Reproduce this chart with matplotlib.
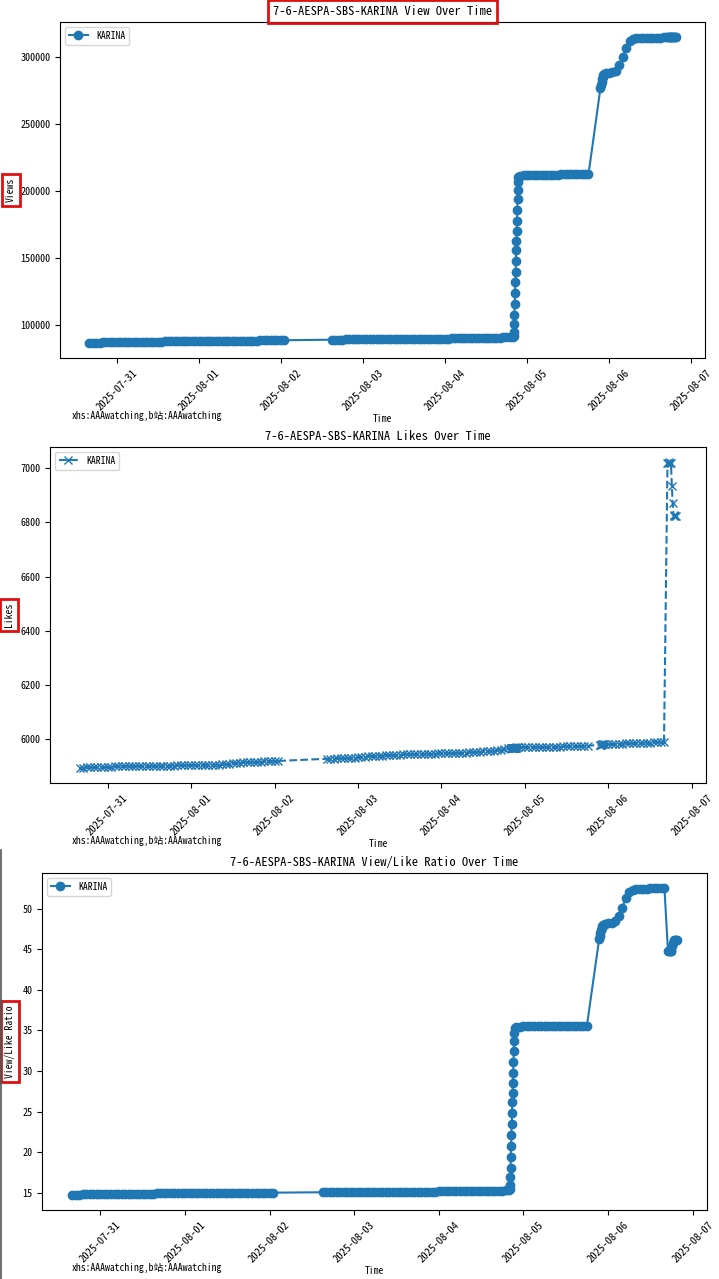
import matplotlib
matplotlib.use("Agg")
import matplotlib.pyplot as plt
import matplotlib.dates as mdates
from matplotlib.lines import Line2D
import numpy as np
import pandas as pd

plt.rcParams['font.family'] = ['Noto Sans Mono CJK SC', 'Noto Sans CJK SC', 'DejaVu Sans']
plt.rcParams['axes.unicode_minus'] = False

title_prefix = "7-6-AESPA-SBS-KARINA"
member = "KARINA"
footer = "xhs:AAAwatching,b站:AAAwatching"

# scrape times, one block per run of the scraper
times = pd.DatetimeIndex(np.concatenate([
    pd.date_range('2025-07-30 16:00', '2025-08-02 01:00', freq='h'),
    pd.date_range('2025-08-02 15:00', '2025-08-04 20:00', freq='h'),
    pd.date_range('2025-08-04 20:05', '2025-08-04 21:30', freq='5min'),
    pd.date_range('2025-08-04 22:00', '2025-08-05 18:00', freq='h'),
    pd.date_range('2025-08-05 21:30', '2025-08-05 22:30', freq='10min'),
    pd.date_range('2025-08-05 23:00', '2025-08-06 16:00', freq='h'),
    pd.date_range('2025-08-06 17:00', '2025-08-06 19:30', freq='15min'),
]))

views = [
    # 07-30 16h .. 08-02 01h
    87000, 87050, 87100, 87150, 87200, 87230, 87260, 87280,
    87300, 87320, 87600, 87650, 87680, 87700, 87720, 87740, 87760, 87780, 87800, 87830,
    87860, 87890, 87920, 87950, 87980, 88000, 88020, 88040, 88060, 88080, 88100, 88120,
    88140, 88300, 88350, 88380, 88400, 88420, 88440, 88460, 88480, 88500, 88520, 88540,
    88560, 88580, 88600, 88620, 88640, 88660, 88680, 88700, 88720, 88740, 88760, 88780,
    88800, 88850,
    # 08-02 15h .. 08-04 20h
    89300, 89330, 89360, 89390, 89420, 89450, 89480, 89500, 89520,
    89540, 89560, 89580, 89600, 89620, 89640, 89660, 89680, 89700, 89720, 89750, 89850,
    89880, 89900, 89920, 89940, 89960, 89980, 90000, 90020, 90040, 90060, 90080, 90100,
    90120, 90140, 90160, 90180, 90200, 90220, 90240, 90260, 90280, 90300, 90500, 90550,
    90600, 90650, 90700, 90750, 90800, 90900, 91000, 91150, 91300,
    # 08-04 20:05 .. 21:30
    92000, 95000, 101000, 108000, 116000, 124000, 132000, 140000, 148000,
    156000, 163000, 170000, 178000, 186000, 194000, 201000, 207000, 210500,
    # 08-04 22h .. 08-05 18h
    211500, 211800, 212000, 212100, 212150, 212200, 212250, 212300, 212350, 212400, 212420,
    212440, 212460, 212480, 212500, 212520, 212540, 212560, 212580, 212600, 212620,
    # 08-05 21:30 .. 22:30
    277000, 279000, 281500, 283500, 285000, 286500, 287200,
    # 08-05 23h .. 08-06 16h
    287800, 288300, 288900, 290000, 294000, 300000, 307000, 312000, 313500,
    314000, 314200, 314300, 314400, 314450, 314500, 314550, 314600, 314650,
    # 08-06 17:00 .. 19:30
    314700, 314700, 314720, 314730, 314740, 314750, 314760, 314770, 314780, 314790, 314800,
]

likes = [
    5895, 5895, 5896, 5896, 5896, 5897, 5897, 5897,
    5898, 5899, 5900, 5900, 5900, 5901, 5901, 5901, 5901, 5902, 5902, 5902,
    5902, 5902, 5903, 5903, 5903, 5903, 5903, 5903, 5904, 5904, 5904, 5904,
    5904, 5905, 5905, 5905, 5905, 5905, 5905, 5906, 5906, 5907, 5908, 5910,
    5912, 5913, 5914, 5915, 5915, 5916, 5916, 5917, 5917, 5918, 5918, 5919,
    5919, 5920,
    5928, 5929, 5929, 5930, 5930, 5931, 5931, 5932, 5932,
    5933, 5934, 5936, 5938, 5939, 5940, 5940, 5940, 5941, 5941, 5941, 5942,
    5943, 5944, 5945, 5945, 5945, 5946, 5946, 5946, 5947, 5947, 5947, 5948,
    5948, 5949, 5949, 5950, 5950, 5950, 5951, 5951, 5952, 5952, 5953, 5954,
    5955, 5956, 5957, 5958, 5960, 5962, 5964, 5966, 5968,
    5968, 5968, 5968, 5968, 5968, 5968, 5969, 5969, 5969,
    5969, 5969, 5969, 5969, 5969, 5969, 5969, 5969, 5970,
    5970, 5970, 5971, 5971, 5971, 5972, 5972, 5972, 5972, 5973, 5973,
    5973, 5973, 5974, 5974, 5974, 5974, 5975, 5975, 5975, 5976,
    5980, 5980, 5980, 5980, 5981, 5981, 5981,
    5982, 5982, 5983, 5983, 5984, 5984, 5985, 5985, 5986,
    5986, 5987, 5987, 5988, 5988, 5989, 5989, 5990, 5990,
    7020, 7021, 7022, 7020, 7018, 6935, 6870, 6826, 6824, 6823, 6822,
]

df = pd.DataFrame({'time': times, 'views': views, 'likes': likes})
# ratio panel is views divided by likes at each scrape
df['ratio'] = df['views'] / df['likes']

W, H = 719, 1279
fig = plt.figure(figsize=(W / 100, H / 100), dpi=100)


def box(l, t, r, b):
    return [l / W, 1 - b / H, (r - l) / W, (b - t) / H]


red_box = dict(boxstyle='square,pad=0.4', fc='none', ec='#e01010', lw=2)

panels = [
    (box(60, 22, 705, 358), 'views', 'Views', 'View Over Time', dict(marker='o', linestyle='-'), -0.068, 416, True),
    (box(50, 447, 706, 783), 'likes', 'Likes', 'Likes Over Time', dict(marker='x', linestyle='--'), -0.055, 841, False),
    (box(42, 873, 707, 1210), 'ratio', 'View/Like Ratio', 'View/Like Ratio Over Time', dict(marker='o', linestyle='-'), -0.04, 1268, False),
]

for rect, col, ylab, ttl, style, ylx, foot_y, title_box in panels:
    ax = fig.add_axes(rect)
    ax.plot(df['time'], df[col], color='#1f77b4', label=member, **style)
    ax.xaxis.set_major_locator(mdates.DayLocator())
    ax.xaxis.set_major_formatter(mdates.DateFormatter('%Y-%m-%d'))
    ax.tick_params(axis='x', labelsize=7.6)
    ax.tick_params(axis='y', labelsize=7.3)
    plt.setp(ax.get_xticklabels(), rotation=45)
    ax.set_xlabel('Time', fontsize=7, labelpad=1)
    ax.set_ylabel(ylab, fontsize=7, bbox=red_box)
    ax.yaxis.set_label_coords(ylx, 0.5)
    t = ax.set_title(f"{title_prefix} {ttl}", fontsize=9, pad=5)
    if title_box:
        t.set_bbox(red_box)
    ax.legend(loc='upper left', fontsize=7)
    fig.text(72 / W, 1 - foot_y / H, footer, fontsize=7, va='center', ha='left')

# screenshot border on the last panel
fig.add_artist(Line2D([0.7 / W, 0.7 / W], [0, 1 - 850 / H], color='#555555', lw=1.2))

fig.savefig('out.png', dpi=100)
